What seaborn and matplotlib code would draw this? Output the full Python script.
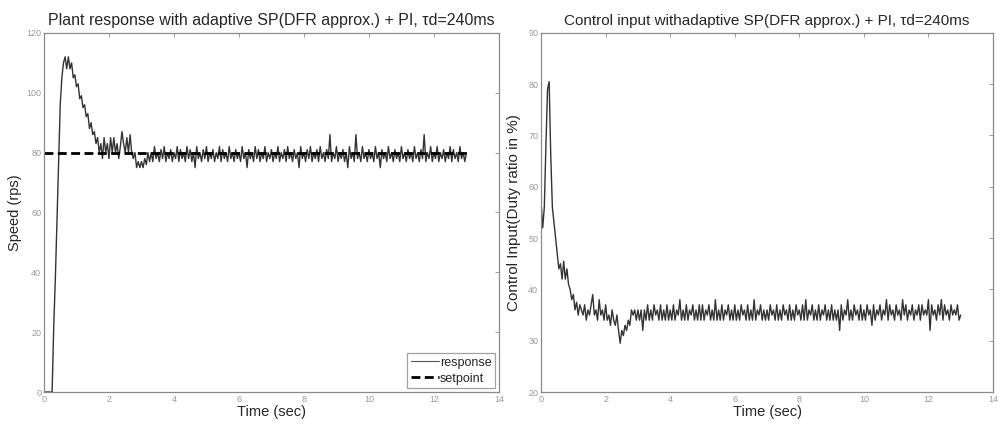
import numpy as np
import pandas as pd
import matplotlib
matplotlib.use("Agg")
import matplotlib.pyplot as plt
import seaborn as sns

# Sample period of the logged signals (s)
dt = 0.05

# Plant speed (rps), one row per second of logging
speed = [
    0, 0, 0, 0, 0, 0, 22, 38, 57, 75, 96, 105, 110, 112, 108, 112, 108, 110, 105, 106,
    102, 103, 98, 99, 95, 96, 92, 93, 88, 90, 86, 87, 83, 85, 80, 83, 78, 85, 80, 83,
    78, 85, 80, 85, 80, 83, 78, 82, 87, 83, 80, 85, 80, 86, 80, 78, 80, 75, 77, 75,
    77, 75, 78, 76, 80, 77, 80, 77, 82, 78, 80, 77, 81, 78, 82, 77, 80, 78, 81, 77,
    80, 78, 82, 77, 81, 78, 80, 77, 82, 78, 81, 77, 80, 75, 82, 78, 80, 77, 81, 78,
    82, 77, 80, 78, 81, 77, 80, 78, 82, 77, 81, 78, 80, 77, 82, 78, 80, 77, 81, 78,
    80, 77, 82, 78, 80, 75, 81, 78, 80, 77, 82, 78, 81, 77, 80, 78, 82, 77, 80, 78,
    81, 77, 80, 78, 82, 77, 80, 78, 81, 77, 82, 78, 80, 77, 81, 78, 80, 75, 82, 78,
    80, 77, 81, 78, 82, 77, 80, 78, 81, 77, 82, 78, 80, 77, 81, 78, 86, 77, 80, 78,
    82, 77, 80, 78, 81, 77, 80, 75, 82, 78, 80, 77, 86, 78, 80, 77, 82, 78, 80, 77,
    81, 78, 80, 77, 82, 78, 80, 75, 81, 78, 80, 77, 82, 78, 80, 77, 81, 78, 80, 77,
    82, 78, 80, 77, 81, 78, 80, 77, 82, 78, 80, 77, 81, 78, 86, 77, 80, 78, 82, 77,
    80, 78, 82, 77, 80, 78, 81, 77, 80, 78, 82, 77, 81, 78, 80, 77, 82, 78, 80, 77,
    80,
]

# Control input (duty ratio, %), same sampling
duty = [
    57, 52, 56, 68, 79, 80.5, 66, 56, 53, 50, 47, 44, 45, 42, 45.5, 42, 44, 41, 40, 38,
    39, 36, 37.5, 35, 37, 36, 35, 37, 34, 36, 35, 37, 39, 35, 36, 34, 38, 35, 36, 34,
    37, 34, 35, 33, 36, 34, 33, 35, 32, 29.5, 32, 31, 33, 32, 34, 33, 36, 35, 36, 34,
    36, 34, 36, 32, 36, 34, 37, 34, 36, 34, 37, 35, 36, 34, 37, 34, 36, 34, 37, 34,
    36, 34, 37, 34, 36, 35, 38, 34, 36, 34, 37, 34, 36, 35, 37, 34, 36, 34, 37, 34,
    37, 34, 36, 35, 37, 34, 36, 34, 38, 34, 36, 34, 37, 34, 36, 35, 37, 34, 36, 34,
    37, 34, 36, 34, 37, 35, 36, 34, 37, 34, 36, 34, 38, 34, 36, 35, 37, 34, 36, 34,
    36, 34, 37, 35, 36, 34, 37, 34, 36, 34, 37, 35, 36, 34, 37, 34, 36, 34, 37, 35,
    36, 34, 37, 34, 38, 34, 36, 35, 37, 34, 36, 34, 37, 34, 36, 35, 37, 34, 36, 34,
    37, 34, 36, 34, 36, 32, 37, 34, 36, 35, 38, 34, 36, 34, 37, 35, 36, 34, 37, 34,
    36, 34, 37, 35, 36, 33, 37, 34, 36, 35, 37, 34, 36, 35, 38, 34, 37, 35, 36, 34,
    37, 35, 36, 34, 38, 35, 37, 34, 36, 35, 37, 34, 36, 35, 37, 34, 37, 35, 36, 35,
    38, 32, 37, 35, 36, 34, 37, 35, 38, 34, 37, 35, 36, 34, 37, 35, 36, 35, 37, 34,
    35,
]

setpoint_time = [0.0, 13.0]
setpoint = [80, 80]

x_ticks = [0, 2, 4, 6, 8, 10, 12, 14]
speed_ticks = [0, 20, 40, 60, 80, 100, 120]
duty_ticks = [20, 30, 40, 50, 60, 70, 80, 90]

time_s = np.arange(len(speed)) * dt
time_u = np.arange(len(duty)) * dt
df_speed = pd.DataFrame({"t": time_s, "v": speed})
df_duty = pd.DataFrame({"t": time_u, "v": duty})
df_sp = pd.DataFrame({"t": setpoint_time, "v": setpoint})

sns.set_style("white")
plt.rcParams["font.family"] = ["Liberation Sans", "DejaVu Sans"]

fig = plt.figure(figsize=(10.02, 4.26), dpi=100)
ax1 = fig.add_axes([0.0439, 0.0798, 0.454, 0.843])
ax2 = fig.add_axes([0.540, 0.0798, 0.451, 0.843])

frame_c = "#8a8a8a"
tick_c = "#9a9a9a"
line_c = "#333333"

sns.lineplot(data=df_speed, x="t", y="v", ax=ax1, color=line_c, lw=1.0,
             estimator=None, label="response")
sns.lineplot(data=df_sp, x="t", y="v", ax=ax1, color="black", lw=2.0,
             estimator=None, label="setpoint")
ax1.lines[1].set_linestyle((0, (3.2, 1.6)))

sns.lineplot(data=df_duty, x="t", y="v", ax=ax2, color=line_c, lw=1.0,
             estimator=None, legend=False)

for ax, yt in ((ax1, speed_ticks), (ax2, duty_ticks)):
    ax.set_xlim(0, 14)
    ax.set_ylim(yt[0], yt[-1])
    ax.set_xticks(x_ticks)
    ax.set_yticks(yt)
    ax.tick_params(direction="in", length=3, width=0.6, color=frame_c,
                   labelsize=6.5, labelcolor=tick_c, top=True, right=True, pad=2)
    for s in ax.spines.values():
        s.set_color(frame_c)
        s.set_linewidth(0.9)
    ax.set_xlabel("Time (sec)", fontsize=10.5, labelpad=1)

ax1.set_ylabel("Speed (rps)", fontsize=10.5, labelpad=3)
ax2.set_ylabel("Control Input(Duty ratio in %)", fontsize=11, labelpad=5)

ax1.set_title("Plant response with adaptive SP(DFR approx.) + PI, \u03c4d=240ms",
              fontsize=11.5, pad=6)
ax2.set_title("Control input withadaptive SP(DFR approx.) + PI, \u03c4d=240ms",
              fontsize=11, pad=6)

leg = ax1.legend(loc="lower right", fontsize=9, frameon=True, fancybox=False,
                 handlelength=2.2, handletextpad=0.1, borderpad=0.3,
                 labelspacing=0.3, borderaxespad=0.3)
leg.get_frame().set_edgecolor(frame_c)
leg.get_frame().set_linewidth(0.9)
leg.get_lines()[0].set_color("#555555")
leg.get_lines()[0].set_linewidth(0.8)

fig.savefig("out.png", dpi=100)
